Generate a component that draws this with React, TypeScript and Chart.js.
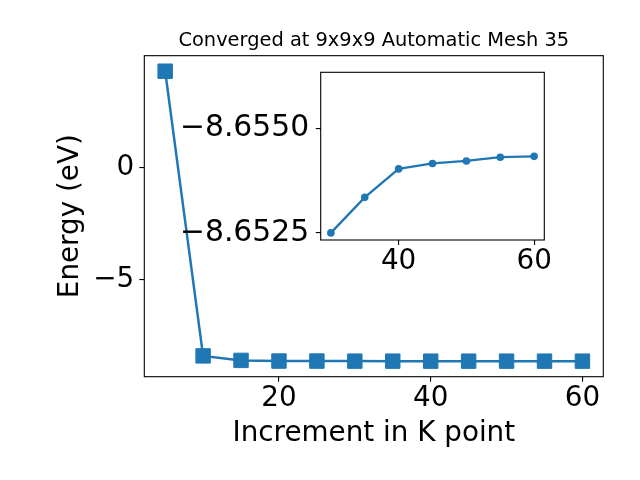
import React, { useEffect, useRef } from "react";
import { Chart, registerables } from "chart.js";

Chart.register(...registerables);

// ---- data ----
const kPoints = [5, 10, 15, 20, 25, 30, 35, 40, 45, 50, 55, 60];
const energies = [
  4.29, -8.42, -8.62, -8.649, -8.651, -8.6525, -8.65335, -8.65403, -8.65416,
  -8.65422, -8.65431, -8.65433,
];
const insetStartK = 30;
const mainXTicks = [20, 40, 60];
const mainYTicks = [-5, 0];
const insetXTicks = [40, 60];
const insetYTicks = [-8.655, -8.6525];
const titleText = "Converged at 9x9x9 Automatic Mesh 35";
const xLabel = "Increment in K point";
const yLabel = "Energy (eV)";

// ---- styles ----
const BLUE = "#1f77b4";
const FONT = "'DejaVu Sans', sans-serif";
const BIG = 27.8;
const INSET_Y = 29.8;
const minus = (s: string) => s.replace(/-/g, "\u2212");

const framePlugin = {
  id: "frame",
  beforeDraw(chart: any, _args: any, opts: any) {
    if (opts && opts.fill) {
      const { ctx, chartArea: a } = chart;
      ctx.save();
      ctx.fillStyle = "#ffffff";
      ctx.fillRect(a.left, a.top, a.right - a.left, a.bottom - a.top);
      ctx.restore();
    }
  },
  afterDraw(chart: any) {
    const { ctx, chartArea: a } = chart;
    ctx.save();
    ctx.strokeStyle = "#000000";
    ctx.lineWidth = 1.1;
    ctx.strokeRect(a.left, a.top, a.right - a.left, a.bottom - a.top);
    ctx.restore();
  },
};

const tickGrid = {
  display: true,
  drawOnChartArea: false,
  drawTicks: true,
  tickLength: 5,
  color: "#000000",
  lineWidth: 1.1,
};

export default function App() {
  const mainRef = useRef<HTMLCanvasElement>(null);
  const insetRef = useRef<HTMLCanvasElement>(null);

  useEffect(() => {
    document.body.style.margin = "0";
    const mainData = kPoints.map((k, i) => ({ x: k, y: energies[i] }));
    const insetData = mainData.filter((d) => d.x >= insetStartK);

    const main = new Chart(mainRef.current!, {
      type: "line",
      data: {
        datasets: [
          {
            data: mainData,
            borderColor: BLUE,
            backgroundColor: BLUE,
            borderWidth: 2.5,
            pointStyle: "rect",
            pointRadius: 10.2,
            pointBorderWidth: 1,
            pointBorderColor: BLUE,
            pointBackgroundColor: BLUE,
            tension: 0,
          },
        ],
      },
      options: {
        animation: false,
        responsive: false,
        devicePixelRatio: 1,
        events: [],
        layout: { padding: { left: 0, top: 0, right: 36.7, bottom: 0 } },
        plugins: {
          legend: { display: false },
          tooltip: { enabled: false },
          title: {
            display: true,
            text: titleText,
            fullSize: false,
            color: "#000000",
            font: { family: FONT, size: 19.4, weight: "normal" },
            padding: { top: 29.5, bottom: 2.9 },
          },
          frame: { fill: false },
        } as any,
        scales: {
          x: {
            type: "linear",
            min: 2.25,
            max: 62.75,
            afterBuildTicks: (s: any) => {
              s.ticks = mainXTicks.map((v) => ({ value: v }));
            },
            afterFit: (s: any) => {
              s.height = 103.3;
            },
            ticks: {
              color: "#000000",
              font: { family: FONT, size: BIG },
              padding: 0,
              maxRotation: 0,
              autoSkip: false,
              callback: (v: any) => minus(String(v)),
            },
            grid: tickGrid,
            border: { display: false },
            title: {
              display: true,
              text: xLabel,
              color: "#000000",
              font: { family: FONT, size: BIG },
              padding: { top: 0, bottom: 30 },
            },
          },
          y: {
            type: "linear",
            min: -9.348,
            max: 4.982,
            afterBuildTicks: (s: any) => {
              s.ticks = mainYTicks.map((v) => ({ value: v }));
            },
            afterFit: (s: any) => {
              s.width = 144.3;
            },
            ticks: {
              color: "#000000",
              font: { family: FONT, size: BIG },
              padding: 5,
              autoSkip: false,
              callback: (v: any) => minus(String(v)),
            },
            grid: tickGrid,
            border: { display: false },
            title: {
              display: true,
              text: yLabel,
              color: "#000000",
              font: { family: FONT, size: BIG },
              padding: { top: 54.5, bottom: 0 },
            },
          },
        },
      },
      plugins: [framePlugin],
    } as any);

    const inset = new Chart(insetRef.current!, {
      type: "line",
      data: {
        datasets: [
          {
            data: insetData,
            borderColor: BLUE,
            backgroundColor: BLUE,
            borderWidth: 2.3,
            pointStyle: "circle",
            pointRadius: 3.8,
            pointBorderWidth: 0,
            pointBackgroundColor: BLUE,
            tension: 0,
          },
        ],
      },
      options: {
        animation: false,
        responsive: false,
        devicePixelRatio: 1,
        events: [],
        layout: { padding: { left: 0, top: 32.3, right: 25.7, bottom: 0 } },
        plugins: {
          legend: { display: false },
          tooltip: { enabled: false },
          title: { display: false },
          frame: { fill: true },
        } as any,
        scales: {
          x: {
            type: "linear",
            min: 28.5,
            max: 61.5,
            afterBuildTicks: (s: any) => {
              s.ticks = insetXTicks.map((v) => ({ value: v }));
            },
            afterFit: (s: any) => {
              s.height = 60;
            },
            ticks: {
              color: "#000000",
              font: { family: FONT, size: BIG },
              padding: 0,
              maxRotation: 0,
              autoSkip: false,
              callback: (v: any) => minus(String(v)),
            },
            grid: tickGrid,
            border: { display: false },
          },
          y: {
            type: "linear",
            reverse: true,
            min: -8.65634,
            max: -8.65233,
            afterBuildTicks: (s: any) => {
              s.ticks = insetYTicks.map((v) => ({ value: v }));
            },
            afterFit: (s: any) => {
              s.width = 170.7;
            },
            ticks: {
              color: "#000000",
              font: { family: FONT, size: INSET_Y },
              padding: 6.5,
              autoSkip: false,
              callback: (v: any) => minus(Number(v).toFixed(4)),
            },
            grid: tickGrid,
            border: { display: false },
          },
        },
      },
      plugins: [framePlugin],
    } as any);

    return () => {
      main.destroy();
      inset.destroy();
    };
  }, []);

  return (
    <div style={{ position: "relative", width: 640, height: 480, background: "#ffffff" }}>
      <canvas
        ref={mainRef}
        width={640}
        height={480}
        style={{ position: "absolute", left: 0, top: 0, width: 640, height: 480 }}
      />
      <canvas
        ref={insetRef}
        width={420}
        height={260}
        style={{ position: "absolute", left: 150, top: 40, width: 420, height: 260 }}
      />
    </div>
  );
}
